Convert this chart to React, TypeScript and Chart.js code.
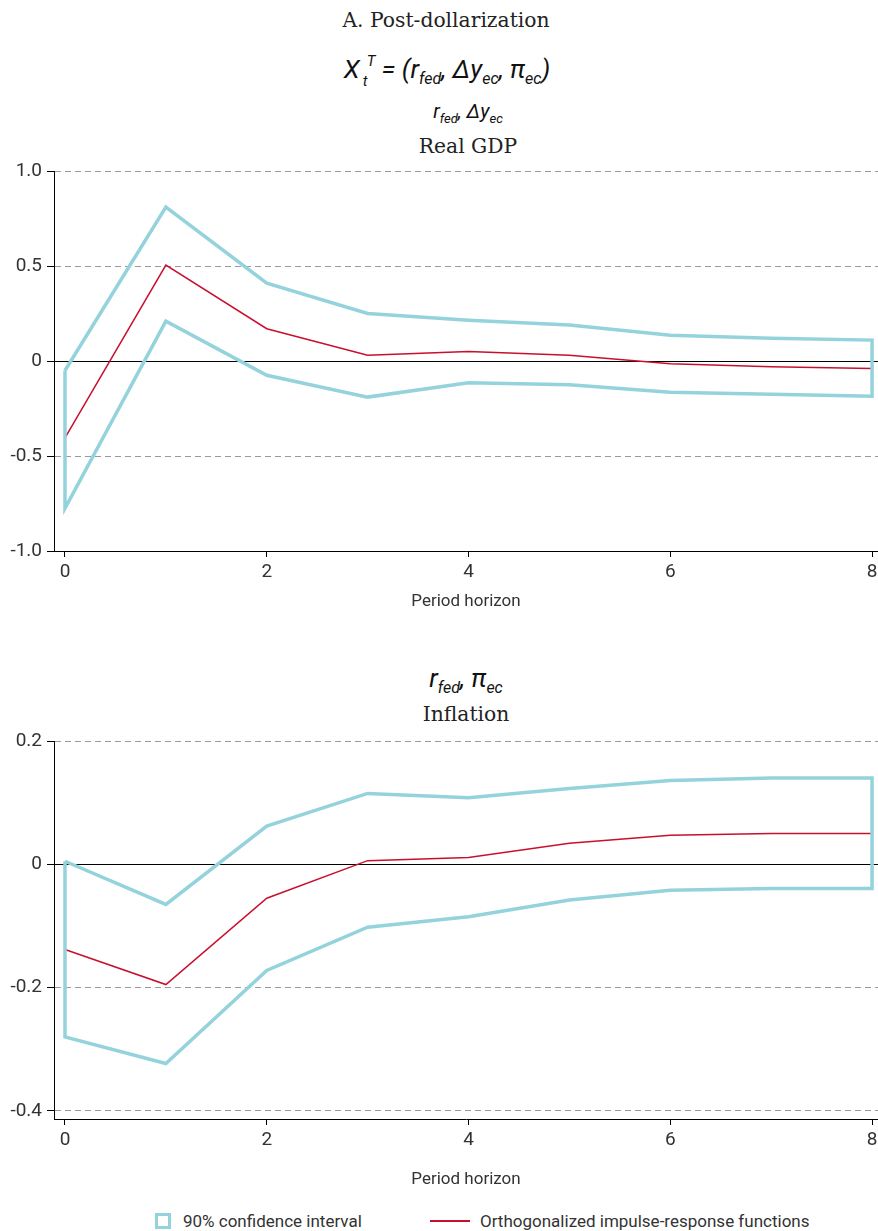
import React, { useEffect, useRef } from "react";
import { Chart, registerables } from "chart.js";

Chart.register(...registerables);

const HORIZON = [0, 1, 2, 3, 4, 5, 6, 7, 8];

const GDP_UPPER = [-0.05, 0.81, 0.41, 0.25, 0.215, 0.19, 0.135, 0.12, 0.11];
const GDP_LOWER = [-0.775, 0.21, -0.075, -0.19, -0.115, -0.125, -0.165, -0.175, -0.185];
const GDP_IRF = [-0.405, 0.505, 0.17, 0.03, 0.05, 0.03, -0.015, -0.03, -0.04];

const INF_UPPER = [0.005, -0.065, 0.062, 0.115, 0.108, 0.123, 0.136, 0.14, 0.14];
const INF_LOWER = [-0.28, -0.323, -0.172, -0.102, -0.085, -0.058, -0.042, -0.039, -0.039];
const INF_IRF = [-0.138, -0.195, -0.055, 0.006, 0.011, 0.034, 0.047, 0.05, 0.05];

const X_TICKS = [0, 2, 4, 6, 8];
const GDP_Y_TICKS = [-1.0, -0.5, 0, 0.5, 1.0];
const INF_Y_TICKS = [-0.4, -0.2, 0, 0.2];

const CI_COLOR = "#94d3dc";
const IRF_COLOR = "#c8102e";
const AXIS_FONT = "Roboto, 'Liberation Sans', sans-serif";
const SERIF = "'DejaVu Serif', 'Liberation Serif', serif";

const zeroLine = {
  id: "zeroLine",
  beforeDatasetsDraw(chart: any) {
    const ctx = chart.ctx;
    const y = Math.round(chart.scales.y.getPixelForValue(0)) + 0.5;
    const { left, right } = chart.chartArea;
    ctx.save();
    ctx.strokeStyle = "#000";
    ctx.lineWidth = 1;
    ctx.beginPath();
    ctx.moveTo(left, y);
    ctx.lineTo(right, y);
    ctx.stroke();
    ctx.restore();
  },
};

function fmt(v: number) {
  return v === 0 ? "0" : v.toFixed(1);
}

function PanelChart(props: {
  upper: number[];
  lower: number[];
  irf: number[];
  yTicks: number[];
  yMin: number;
  yMax: number;
  xAxisHeight: number;
  width: number;
  height: number;
}) {
  const ref = useRef<HTMLCanvasElement>(null);
  useEffect(() => {
    if (!ref.current) return;
    const ci = [
      ...props.upper.map((v, i) => ({ x: HORIZON[i], y: v })),
      ...props.lower.map((v, i) => ({ x: HORIZON[i], y: v })).reverse(),
      { x: HORIZON[0], y: props.upper[0] },
    ];
    const irf = props.irf.map((v, i) => ({ x: HORIZON[i], y: v }));
    const chart = new Chart(ref.current, {
      type: "line",
      data: {
        datasets: [
          {
            label: "90% confidence interval",
            data: ci,
            borderColor: CI_COLOR,
            borderWidth: 3.5,
            pointRadius: 0,
            tension: 0,
            fill: false,
            borderJoinStyle: "miter",
          },
          {
            label: "Orthogonalized impulse-response functions",
            data: irf,
            borderColor: IRF_COLOR,
            borderWidth: 1.5,
            pointRadius: 0,
            tension: 0,
            fill: false,
          },
        ],
      },
      options: {
        animation: false,
        responsive: false,
        layout: { padding: { top: 11, left: 0, right: 0, bottom: 0 } },
        plugins: { legend: { display: false }, tooltip: { enabled: false } },
        scales: {
          x: {
            type: "linear",
            min: -0.109,
            max: 8.059,
            afterBuildTicks: (s: any) => {
              s.ticks = X_TICKS.map((v) => ({ value: v }));
            },
            afterFit: (s: any) => {
              s.height = props.xAxisHeight;
              s.paddingLeft = 0;
              s.paddingRight = 0;
            },
            grid: {
              drawOnChartArea: false,
              drawTicks: true,
              tickLength: 6,
              tickColor: "#000",
            },
            border: { display: true, color: "#000", width: 1 },
            ticks: {
              color: "#333",
              font: { family: AXIS_FONT, size: 19 },
              padding: 4,
              maxRotation: 0,
              callback: (v: any) => String(v),
            },
            title: {
              display: true,
              text: "Period horizon",
              color: "#333",
              font: { family: AXIS_FONT, size: 17 },
              padding: { top: 4, bottom: 6 },
            },
          },
          y: {
            type: "linear",
            min: props.yMin,
            max: props.yMax,
            afterBuildTicks: (s: any) => {
              s.ticks = props.yTicks.map((v) => ({ value: v }));
            },
            afterFit: (s: any) => {
              s.width = 54;
              s.paddingTop = 0;
              s.paddingBottom = 0;
            },
            grid: {
              color: (c: any) => (c.tick && c.tick.value === 0 ? "rgba(0,0,0,0)" : "#9a9a9a"),
              lineWidth: 1,
              drawTicks: true,
              tickLength: 7,
              tickColor: "#000",
            },
            border: { display: true, color: "#000", width: 1, dash: [6, 4] },
            ticks: {
              color: "#333",
              font: { family: AXIS_FONT, size: 19 },
              padding: 5,
              callback: (v: any) => fmt(Number(v)),
            },
          },
        },
      },
      plugins: [zeroLine],
    });
    return () => chart.destroy();
  }, []);
  return <canvas ref={ref} width={props.width} height={props.height} style={{ display: "block" }} />;
}

const sub = (t: string, size: number) => (
  <span style={{ fontSize: size, verticalAlign: "-0.35em" }}>{t}</span>
);

const titleStyle: React.CSSProperties = {
  position: "absolute",
  left: 0,
  width: 878,
  textAlign: "center",
  fontFamily: SERIF,
  fontSize: 20.3,
  lineHeight: "24px",
  color: "#222",
};

const mathStyle: React.CSSProperties = {
  position: "absolute",
  textAlign: "center",
  fontFamily: AXIS_FONT,
  fontStyle: "italic",
  color: "#111",
  whiteSpace: "nowrap",
};

export default function App() {
  return (
    <div style={{ position: "absolute", left: 0, top: 0, width: 878, height: 1231, background: "#fff", overflow: "hidden" }}>
      <div style={{ ...titleStyle, top: 8, left: 14, width: 864 }}>A. Post-dollarization</div>
      <div style={{ ...mathStyle, top: 53, left: 16, width: 862, fontSize: 26, lineHeight: "32px" }}>
        <span style={{ display: "inline-block", position: "relative" }}>
          X
          <span style={{ position: "absolute", left: 19, top: 12, fontSize: 15 }}>t</span>
          <span style={{ position: "absolute", left: 23, top: -8, fontSize: 15 }}>T</span>
        </span>
        <span style={{ marginLeft: 22 }}>= (r{sub("fed", 16)}, Δy{sub("ec", 16)}, π{sub("ec", 16)})</span>
      </div>
      <div style={{ ...mathStyle, top: 99, left: 56, width: 824, fontSize: 20, lineHeight: "24px" }}>
        r{sub("fed", 13)}, Δy{sub("ec", 13)}
      </div>
      <div style={{ ...titleStyle, top: 134, left: 56, width: 824 }}>Real GDP</div>
      <div style={{ position: "absolute", top: 160, left: 0 }}>
        <PanelChart upper={GDP_UPPER} lower={GDP_LOWER} irf={GDP_IRF} yTicks={GDP_Y_TICKS} yMin={-1.0} yMax={1.0} xAxisHeight={67} width={878} height={458} />
      </div>
      <div style={{ ...mathStyle, top: 663, left: 50, width: 832, fontSize: 26, lineHeight: "30px" }}>
        r{sub("fed", 16)}, π{sub("ec", 16)}
      </div>
      <div style={{ ...titleStyle, top: 702, left: 54, width: 824 }}>Inflation</div>
      <div style={{ position: "absolute", top: 730, left: 0 }}>
        <PanelChart upper={INF_UPPER} lower={INF_LOWER} irf={INF_IRF} yTicks={INF_Y_TICKS} yMin={-0.413} yMax={0.2} xAxisHeight={77} width={878} height={466} />
      </div>
      <div style={{ position: "absolute", top: 1208, left: 0, width: 878, height: 26, fontFamily: AXIS_FONT, fontSize: 17, color: "#333" }}>
        <span style={{ position: "absolute", left: 155, top: 5, width: 10, height: 10, border: `3px solid ${CI_COLOR}` }} />
        <span style={{ position: "absolute", left: 183, top: 0, lineHeight: "26px", whiteSpace: "nowrap" }}>90% confidence interval</span>
        <span style={{ position: "absolute", left: 430, top: 12, width: 40, height: 2, background: IRF_COLOR }} />
        <span style={{ position: "absolute", left: 480, top: 0, lineHeight: "26px", whiteSpace: "nowrap" }}>Orthogonalized impulse-response functions</span>
      </div>
    </div>
  );
}
